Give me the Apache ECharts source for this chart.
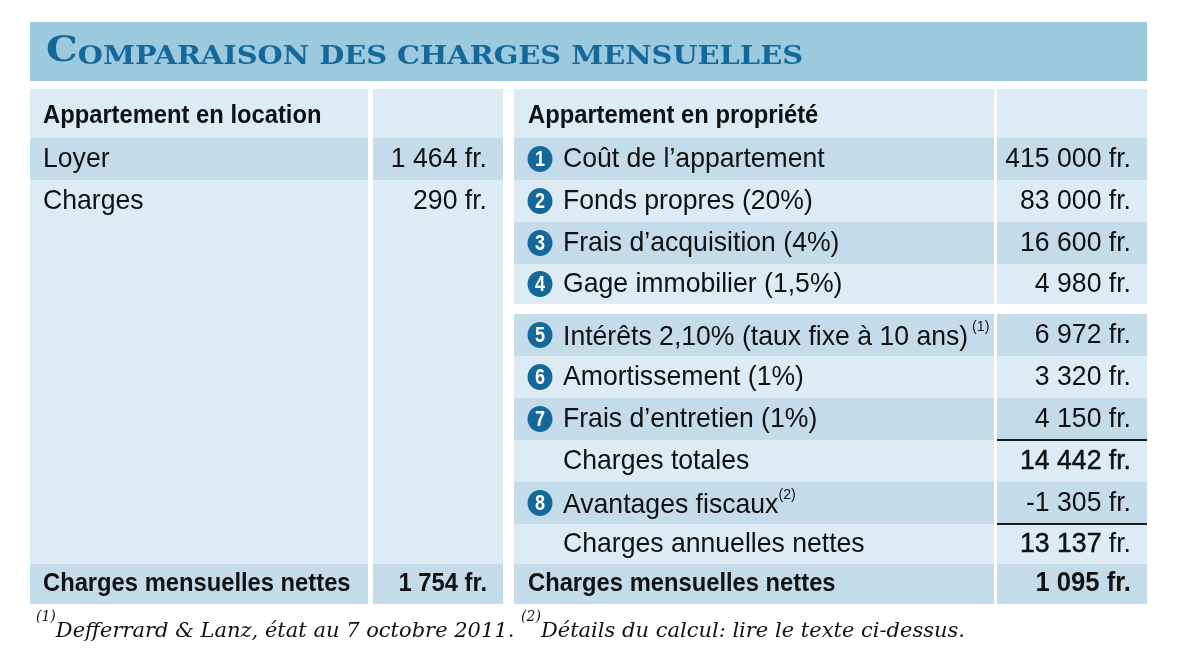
<!DOCTYPE html>
<html>
<head>
<meta charset="utf-8">
<title>Comparaison des charges mensuelles</title>
<script src="https://cdn.jsdelivr.net/npm/echarts@6/dist/echarts.min.js"></script>
<style>
html,body{margin:0;padding:0;background:#fff;}
#main{width:1200px;height:667px;}
</style>
</head>
<body>
<div id="main"></div>
<script>
// --- donnees ---
var titre = 'Comparaison des charges mensuelles';
var enteteLocation = 'Appartement en location';
var locationLabels = ['Loyer', 'Charges'];
var locationValeurs = ['1 464 fr.', '290 fr.'];
var locationTotalLabel = 'Charges mensuelles nettes';
var locationTotalValeur = '1 754 fr.';

var entetePropriete = 'Appartement en propriété';
var proprieteNums = [1, 2, 3, 4, 5, 6, 7, null, 8, null, null];
var proprieteLabels = ['Coût de l’appartement', 'Fonds propres (20%)', 'Frais d’acquisition (4%)',
  'Gage immobilier (1,5%)', 'Intérêts 2,10% (taux fixe à 10 ans)', 'Amortissement (1%)',
  'Frais d’entretien (1%)', 'Charges totales', 'Avantages fiscaux', 'Charges annuelles nettes',
  'Charges mensuelles nettes'];
var proprieteNotes = ['', '', '', '', '(1)', '', '', '', '(2)', '', ''];
var proprieteValeurs = ['415 000 fr.', '83 000 fr.', '16 600 fr.', '4 980 fr.', '6 972 fr.',
  '3 320 fr.', '4 150 fr.', '14 442 fr.', '-1 305 fr.', '13 137 fr.', '1 095 fr.'];
var noteTexte1 = 'Defferrard & Lanz, état au 7 octobre 2011.';
var noteTexte2 = 'Détails du calcul: lire le texte ci-dessus.';

// --- mise en page (unites du tableau) ---
var colsLoc = [[0, 338], [343, 473]];
var colsProp = [[484, 964], [967, 1117]];
var bandesLoc = [[0, 49], [49, 91], [91, 475], [475, 515]];
var bandesProp = [[0, 49], [49, 91], [91, 133], [133, 175], [175, 215], [225, 267], [267, 309],
  [309, 351], [351, 393], [393, 435], [435, 475], [475, 515]];
var clair = '#ddecf4', fonce = '#c4dcea', bleu = '#14699a';
var police = '"Liberation Sans",Arial,sans-serif';
var taille = 28, tailleGras = 25, serre = 0.95;

function cellule(api, col, bande, fill){
  var p = api.coord([col[0], bande[0]]);
  var s = api.size([col[1] - col[0], bande[1] - bande[0]]);
  return {type: 'rect', shape: {x: p[0], y: p[1], width: s[0], height: s[1]}, style: {fill: fill}};
}
function texte(api, x, yMilieu, txt, align, gras, rich){
  var p = api.coord([x, yMilieu]);
  return {type: 'text', x: p[0], y: p[1], scaleX: serre, style: {
    text: txt, fill: '#111', font: gras ? ('bold ' + tailleGras + 'px ' + police) : (taille + 'px ' + police),
    align: align, verticalAlign: 'middle', rich: rich}};
}
// graisse moyenne : texte normal epaissi d'un trait fin
function demiGras(el){
  el.style.stroke = '#111';
  el.style.lineWidth = 0.5;
  return el;
}

function renderLocation(params, api){
  var i = params.dataIndex;
  var b = bandesLoc[i];
  var fill = (i % 2 === 0) ? clair : fonce;
  var els = [cellule(api, colsLoc[0], b, fill), cellule(api, colsLoc[1], b, fill)];
  var yTxt = (i === 2) ? (91 + 133) / 2 : (b[0] + b[1]) / 2;
  var label, valeur, gras = false;
  if(i === 0){ label = enteteLocation; valeur = ''; gras = true; yTxt += 3; }
  else if(i === 3){ label = locationTotalLabel; valeur = locationTotalValeur; gras = true; }
  else { label = locationLabels[i - 1]; valeur = locationValeurs[i - 1]; }
  els.push(texte(api, colsLoc[0][0] + 13, yTxt, label, 'left', gras));
  els.push(texte(api, colsLoc[1][1] - 16, yTxt, valeur, 'right', gras));
  return {type: 'group', children: els};
}

function renderPropriete(params, api){
  var i = params.dataIndex;
  var b = bandesProp[i];
  var fill = (i % 2 === 0) ? clair : fonce;
  var els = [cellule(api, colsProp[0], b, fill), cellule(api, colsProp[1], b, fill)];
  var yTxt = (b[0] + b[1]) / 2;
  if(i === 0){
    els.push(texte(api, colsProp[0][0] + 14, yTxt + 3, entetePropriete, 'left', true));
    return {type: 'group', children: els};
  }
  var k = i - 1;
  var num = proprieteNums[k];
  var derniere = (k === proprieteLabels.length - 1);
  if(num !== null){
    var c = api.coord([colsProp[0][0] + 26, yTxt]);
    els.push({type: 'ellipse', shape: {cx: c[0], cy: c[1], rx: 12.5, ry: 13}, style: {fill: bleu}});
    els.push({type: 'text', x: c[0], y: c[1] + 1, scaleX: 0.82, style: {text: String(num), fill: '#fff',
      font: 'bold 22px ' + police, align: 'center', verticalAlign: 'middle'}});
  }
  var xLabel = derniere ? colsProp[0][0] + 14 : colsProp[0][0] + 49;
  var rich = {n: {font: taille + 'px ' + police, fill: '#111', verticalAlign: 'bottom', lineHeight: 32},
    s: {font: '15px ' + police, fill: '#111', verticalAlign: 'top', lineHeight: 32}};
  var lbl = proprieteLabels[k];
  if(proprieteNotes[k]){
    lbl = '{n|' + lbl + '}{s|' + (k === 4 ? ' ' : '') + proprieteNotes[k] + '}';
  }
  els.push(texte(api, xLabel, yTxt, lbl, 'left', derniere, proprieteNotes[k] ? rich : undefined));
  var v = proprieteValeurs[k];
  var xVal = colsProp[1][1] - 16;
  if(k === 9){
    var parts = v.split(' fr.');
    els.push(texte(api, xVal, yTxt, '{g|' + parts[0] + '}{r| fr.}', 'right', false, {
      g: {font: taille + 'px ' + police, fill: '#111', stroke: '#111', lineWidth: 0.5},
      r: {font: taille + 'px ' + police, fill: '#111'}}));
  } else if(k === 7){
    els.push(demiGras(texte(api, xVal, yTxt, v, 'right', false)));
  } else if(derniere){
    var t = texte(api, xVal, yTxt, v, 'right', true);
    t.style.font = 'bold 27px ' + police;
    els.push(t);
  } else {
    els.push(texte(api, xVal, yTxt, v, 'right', false));
  }
  // filets au-dessus des totaux
  if(k === 7 || k === 9){
    var a = api.coord([colsProp[1][0], b[0]]);
    var z = api.coord([colsProp[1][1], b[0]]);
    els.push({type: 'line', shape: {x1: a[0], y1: a[1], x2: z[0], y2: z[1]},
      style: {stroke: '#1a1a1a', lineWidth: 2}});
  }
  return {type: 'group', children: els};
}

var chart = echarts.init(document.getElementById('main'));
var option = {
  animation: false,
  backgroundColor: '#fff',
  grid: {left: 30, top: 89, width: 1117, height: 515},
  xAxis: {type: 'value', min: 0, max: 1117, show: false},
  yAxis: {type: 'value', min: 0, max: 515, inverse: true, show: false},
  graphic: [
    {type: 'rect', left: 30, top: 22, shape: {width: 1117, height: 59}, style: {fill: '#9dc9df'}},
    {type: 'text', x: 46, y: 70, scaleX: 1.11, style: {
      text: '{a|' + titre.charAt(0).toUpperCase() + '}{b|' + titre.slice(1).toUpperCase() + '}',
      verticalAlign: 'bottom',
      rich: {
        a: {font: 'bold 36px "DejaVu Serif",serif', fill: bleu, verticalAlign: 'bottom', lineHeight: 40},
        b: {font: 'bold 26px "DejaVu Serif",serif', fill: bleu, verticalAlign: 'bottom', lineHeight: 34}
      }}},
    {type: 'text', x: 36, y: 642, style: {
      text: '{s|(1)}{t|' + noteTexte1 + ' }{s|(2)}{t|' + noteTexte2 + '}',
      verticalAlign: 'bottom',
      rich: {
        s: {font: 'italic 14px "DejaVu Serif",serif', fill: '#111', verticalAlign: 'top', lineHeight: 32},
        t: {font: 'italic 21px "DejaVu Serif",serif', fill: '#111', verticalAlign: 'bottom', lineHeight: 32}
      }}}
  ],
  series: [
    {type: 'custom', renderItem: renderLocation, data: bandesLoc.map(function(b, i){ return [0, i]; })},
    {type: 'custom', renderItem: renderPropriete, data: bandesProp.map(function(b, i){ return [0, i]; })}
  ]
};
chart.setOption(option);
</script>
</body>
</html>
